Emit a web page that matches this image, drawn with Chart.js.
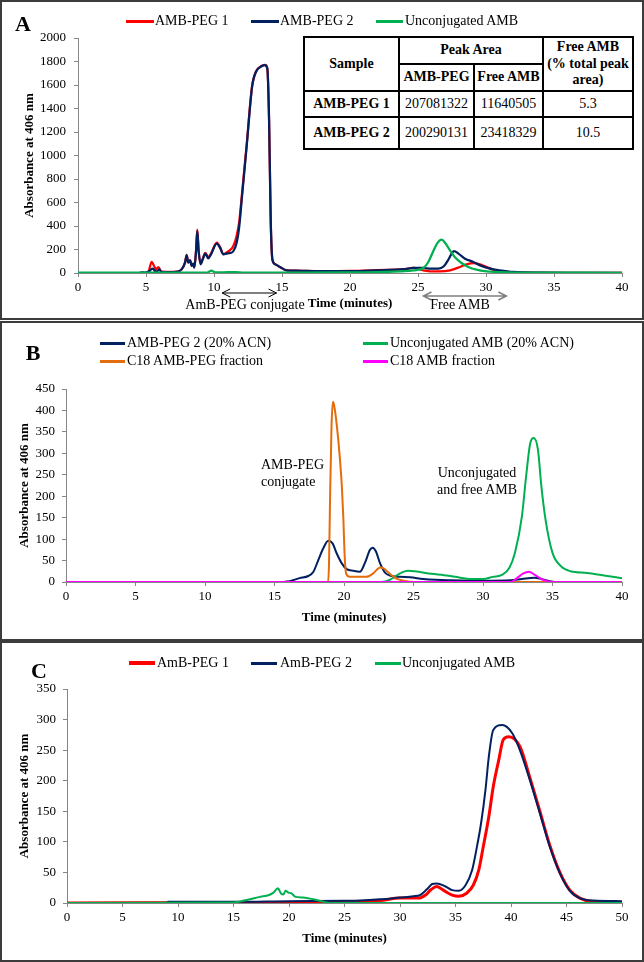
<!DOCTYPE html>
<html>
<head>
<meta charset="utf-8">
<title>AMB-PEG chromatograms</title>
<script src="https://cdn.jsdelivr.net/npm/chart.js@4.4.1/dist/chart.umd.min.js"></script>
<style>
  body { margin: 0; background: #fff; }
  #fig { position: relative; width: 644px; height: 962px; font-family: "Liberation Serif", "Times New Roman", serif; color: #000; overflow: hidden; }
  canvas { position: absolute; left: 0; }
  .frame { position: absolute; left: 0; width: 644px; border: 2px solid #3c3c3c; box-sizing: border-box; }
  .t { position: absolute; line-height: 1; white-space: nowrap; font-size: 14px; transform: translateY(-50%); }
  .c { transform: translate(-50%, -50%); }
  .letter { font-size: 22px; font-weight: bold; }
  .key { position: absolute; height: 3px; }
  #tbl { position: absolute; left: 303px; top: 36px; width: 329px; border-collapse: collapse; table-layout: fixed; font-size: 14px; line-height: 1.2; background: #fff; }
  #tbl td, #tbl th { border: 2px solid #000; padding: 0; text-align: center; }
  #tbl td { font-weight: normal; }
</style>
</head>
<body>
<div id="fig">
  <canvas id="chartA" width="644" height="320" style="top:0"></canvas>
  <canvas id="chartB" width="644" height="320" style="top:320px"></canvas>
  <canvas id="chartC" width="644" height="322" style="top:640px"></canvas>

  <div class="frame" style="top:0;height:320px"></div>
  <div class="frame" style="top:321px;height:320px"></div>
  <div class="frame" style="top:641px;height:321px"></div>

  <!-- panel A -->
  <div class="t c letter" style="left:23px;top:24px">A</div>
  <div class="key" style="left:126px;top:20px;width:28px;background:#ff0000"></div>
  <div class="t" style="left:155px;top:21px">AMB-PEG 1</div>
  <div class="key" style="left:251px;top:20px;width:28px;background:#002060"></div>
  <div class="t" style="left:280px;top:21px">AMB-PEG 2</div>
  <div class="key" style="left:376px;top:20px;width:27px;background:#00b050"></div>
  <div class="t" style="left:405px;top:21px">Unconjugated AMB</div>
  <div class="t c" style="left:245px;top:305px">AmB-PEG conjugate</div>
  <div class="t c" style="left:460px;top:305px">Free AMB</div>
  <table id="tbl">
    <colgroup><col style="width:95px"><col style="width:75px"><col style="width:69px"><col style="width:90px"></colgroup>
    <tr style="height:27px"><th rowspan="2">Sample</th><th colspan="2">Peak Area</th><th rowspan="2">Free AMB<br>(% total peak<br>area)</th></tr>
    <tr style="height:27px"><th>AMB-PEG</th><th>Free AMB</th></tr>
  </table>

  <!-- panel B -->
  <div class="t c letter" style="left:33px;top:353px">B</div>
  <div class="key" style="left:100px;top:342px;width:25px;background:#002060"></div>
  <div class="t" style="left:127px;top:343px">AMB-PEG 2 (20% ACN)</div>
  <div class="key" style="left:363px;top:342px;width:25px;background:#00b050"></div>
  <div class="t" style="left:390px;top:343px">Unconjugated AMB (20% ACN)</div>
  <div class="key" style="left:100px;top:360px;width:25px;background:#e46c0a"></div>
  <div class="t" style="left:127px;top:361px">C18 AMB-PEG fraction</div>
  <div class="key" style="left:363px;top:360px;width:25px;background:#ff00ff"></div>
  <div class="t" style="left:390px;top:361px">C18 AMB fraction</div>
  <div class="t" style="left:261px;top:465px">AMB-PEG</div>
  <div class="t" style="left:261px;top:482px">conjugate</div>
  <div class="t c" style="left:477px;top:473px">Unconjugated</div>
  <div class="t c" style="left:477px;top:490px">and free AMB</div>

  <!-- panel C -->
  <div class="t c letter" style="left:39px;top:671px">C</div>
  <div class="key" style="left:129px;top:661px;width:26px;height:4px;background:#ff0000"></div>
  <div class="t" style="left:157px;top:663px">AmB-PEG 1</div>
  <div class="key" style="left:251px;top:662px;width:26px;background:#002060"></div>
  <div class="t" style="left:280px;top:663px">AmB-PEG 2</div>
  <div class="key" style="left:375px;top:662px;width:26px;background:#00b050"></div>
  <div class="t" style="left:402px;top:663px">Unconjugated AMB</div>
</div>

<script>
// ---- Panel A: SEC, time (min) / absorbance ----
const tA_peg1 = [0, 4.9, 5.17, 5.42, 5.59, 5.74, 5.91, 6.08, 6.27, 6.6, 7.25, 7.62, 7.87, 7.99, 8.11, 8.24, 8.36, 8.48, 8.55, 8.68, 8.77, 8.87, 9.02, 9.17, 9.36, 9.58, 9.78, 10.2, 10.44, 10.69, 10.93, 11.18, 11.42, 11.67, 11.86, 12.03, 12.4, 12.8, 13.1, 13.5, 13.75, 13.92, 14.05, 14.17, 14.3, 14.5, 14.85, 15.34, 16, 18, 20, 22, 24, 24.65, 25.4, 25.9, 26.6, 27.35, 28.08, 28.57, 29.07, 29.56, 30.05, 30.66, 31.5, 33, 36, 40];
const vA_peg1 = [0, 0, 11, 94, 60, 31, 51, 17, 11, 9, 11, 31, 88, 155, 90, 110, 62, 80, 47, 190, 370, 190, 78, 120, 172, 135, 165, 258, 222, 160, 175, 195, 230, 320, 440, 640, 1090, 1590, 1718, 1762, 1772, 1742, 1300, 450, 110, 75, 51, 23, 20, 16, 18, 25, 33, 43, 23, 14, 14, 23, 51, 74, 85, 74, 51, 23, 9, 3, 2, 2];

const tA_peg2 = [0, 4.5, 4.7, 4.9, 5.17, 5.49, 5.74, 5.98, 6.15, 6.6, 7.25, 7.62, 7.87, 7.99, 8.11, 8.24, 8.36, 8.48, 8.55, 8.68, 8.77, 8.87, 9.02, 9.17, 9.36, 9.58, 9.78, 10.2, 10.44, 10.69, 10.93, 11.18, 11.42, 11.67, 11.86, 12.03, 12.4, 12.8, 13.1, 13.5, 13.75, 13.92, 14.05, 14.17, 14.3, 14.5, 14.85, 15.34, 16, 18, 20, 22, 24, 24.65, 25.4, 25.9, 26.5, 26.9, 27.23, 27.5, 27.65, 27.97, 28.46, 29.07, 29.56, 30.3, 31, 32, 34, 36, 40];
const vA_peg2 = [0, 0, 6, 3, 10, 37, 10, 30, 8, 8, 10, 31, 88, 150, 88, 108, 60, 79, 45, 187, 357, 187, 74, 116, 165, 125, 159, 250, 216, 159, 165, 170, 185, 260, 400, 613, 1075, 1585, 1715, 1760, 1770, 1740, 1300, 450, 110, 75, 51, 23, 20, 15, 15, 22, 32, 43, 43, 37, 37, 57, 113, 170, 187, 165, 122, 94, 65, 37, 23, 9, 3, 2, 2];

const tA_free = [0, 9.5, 9.8, 10.1, 11, 11.6, 12.2, 16, 20, 22.2, 24, 24.65, 25.4, 25.76, 26.1, 26.4, 26.74, 27, 27.35, 27.7, 28.2, 28.7, 29.3, 30.05, 31, 34, 40];
const vA_free = [3, 3, 20, 5, 7, 8, 4, 4, 6, 8, 15, 23, 43, 94, 179, 250, 283, 255, 193, 136, 85, 51, 28, 14, 8, 3, 2];

// arrows under the x axis of panel A (time range in minutes)
const arrowsA = [
  { from: 10.6, to: 14.6, drop: 20, color: '#000000', width: 1 },
  { from: 25.4, to: 31.5, drop: 23, color: '#7f7f7f', width: 1.5 }
];

// table of panel A
const tableSamples = ['AMB-PEG 1', 'AMB-PEG 2'];
const pegPeakArea = [207081322, 200290131];
const freePeakArea = [11640505, 23418329];
const freePercent = [5.3, 10.5];

// ---- Panel B: C18 fractions ----
const tB_peg2 = [0, 15, 16.1, 16.8, 17.43, 17.8, 18.15, 18.5, 18.87, 19.18, 19.47, 19.83, 20.19, 20.67, 21.15, 21.5, 21.87, 22.06, 22.3, 22.59, 22.95, 23.43, 24.03, 24.75, 25.7, 26.6, 27.7, 30, 32, 32.8, 33.7, 34.2, 34.8, 35.5, 40];
const vB_peg2 = [0, 0, 2, 9, 14, 24, 51, 78, 96, 90, 67, 44, 30, 26, 24, 44, 75, 80, 71, 44, 22, 14, 12, 11, 7, 5, 4, 3, 4, 7, 10, 7, 2, 0, 0];

const tB_free = [0, 22.7, 23.3, 24.03, 24.6, 25.1, 26.3, 27.2, 28, 29.2, 30, 30.7, 31.4, 31.9, 32.3, 32.8, 33.1, 33.4, 33.65, 33.95, 34.2, 34.5, 35, 35.6, 36.3, 37.5, 38.7, 40];
const vB_free = [0, 0, 5, 20, 26, 25, 19, 16, 12, 7, 7, 12, 17, 33, 68, 153, 246, 324, 336, 309, 223, 145, 68, 37, 25, 21, 15, 9];

const tB_c18peg = [0, 18.85, 18.92, 19, 19.1, 19.2, 19.3, 19.5, 19.7, 19.85, 19.95, 20.05, 20.15, 20.4, 21.6, 22.1, 22.6, 22.85, 23.2, 23.7, 24.3, 25, 40];
const vB_c18peg = [0, 0, 40, 200, 360, 420, 410, 360, 290, 220, 150, 60, 20, 12, 12, 20, 34, 32, 22, 9, 3, 0, 0];

const tB_c18amb = [0, 32, 32.4, 32.9, 33.3, 33.7, 34.2, 34.6, 35, 40];
const vB_c18amb = [0, 0, 8, 20, 24, 17, 7, 2, 0, 0];

// ---- Panel C ----
const tC_peg1 = [0, 15, 20, 25, 26.4, 28.2, 30, 31.7, 32.3, 32.8, 33.3, 33.9, 34.7, 35.3, 36, 36.6, 37.1, 37.5, 38, 38.4, 38.9, 39.3, 39.8, 40.8, 41.7, 42.6, 43.5, 44.4, 45.3, 46.2, 47.5, 50];
const vC_peg1 = [0, 1, 1, 1.5, 2, 4, 8, 8, 13, 22, 27, 21, 13, 11, 16, 29, 54, 92, 141, 190, 234, 267, 272, 256, 205, 150, 94, 50, 21, 8, 2, 1];

const tC_peg2 = [0, 9, 9.1, 15, 20, 25, 26.4, 28.2, 30, 31.2, 31.8, 32.4, 32.9, 33.3, 34.1, 34.7, 35.3, 35.9, 36.5, 36.9, 37.3, 37.7, 38, 38.4, 39.2, 40.1, 40.8, 41.7, 42.6, 43.5, 44.4, 45.3, 46.2, 47.4, 50];
const vC_peg2 = [0, 0, 2, 2, 3, 3.5, 4, 6, 9, 11, 13, 22, 31, 32, 27, 21, 20, 29, 54, 89, 130, 185, 239, 283, 291, 278, 250, 201, 147, 92, 49, 20, 8, 4, 3];

const tC_free = [0, 15, 16.2, 17.4, 18.2, 18.6, 19, 19.3, 19.5, 19.7, 19.95, 20.2, 20.6, 21.3, 22.2, 23.1, 23.7, 50];
const vC_free = [0, 1, 5, 10, 13, 17, 24, 15, 14, 20, 17, 16, 10, 9, 6, 2, 0, 0];

const RED = '#ff0000', NAVY = '#002060', GREEN = '#00b050', ORANGE = '#e46c0a', MAGENTA = '#ff00ff';
const axisGrey = '#868686';

Chart.defaults.font.family = '"Liberation Serif", "Times New Roman", serif';
Chart.defaults.color = '#000';

// fill the table
const tbl = document.getElementById('tbl');
tableSamples.forEach((s, i) => {
  const tr = document.createElement('tr');
  tr.style.height = i === 0 ? '26px' : '32px';
  tr.innerHTML = '<th>' + s + '</th><td>' + pegPeakArea[i] + '</td><td>' + freePeakArea[i] + '</td><td>' + freePercent[i].toFixed(1) + '</td>';
  tbl.appendChild(tr);
});

function pts(t, v) {
  return t.map((x, i) => ({ x: x, y: v[i] }));
}

function series(label, t, v, color, width, order) {
  return {
    label: label,
    data: pts(t, v),
    borderColor: color,
    backgroundColor: color,
    borderWidth: width,
    pointRadius: 0,
    fill: false,
    cubicInterpolationMode: 'monotone',
    order: order
  };
}

const arrowPlugin = {
  id: 'arrows',
  afterDraw(chart, args, opts) {
    if (!opts.list) return;
    const ctx = chart.ctx, xs = chart.scales.x, base = chart.chartArea.bottom;
    opts.list.forEach(a => {
      const x1 = xs.getPixelForValue(a.from), x2 = xs.getPixelForValue(a.to), y = base + a.drop;
      ctx.save();
      ctx.strokeStyle = a.color;
      ctx.lineWidth = a.width;
      ctx.beginPath();
      ctx.moveTo(x1, y); ctx.lineTo(x2, y);
      ctx.moveTo(x1 + 8, y - 4); ctx.lineTo(x1, y); ctx.lineTo(x1 + 8, y + 4);
      ctx.moveTo(x2 - 8, y - 4); ctx.lineTo(x2, y); ctx.lineTo(x2 - 8, y + 4);
      ctx.stroke();
      ctx.restore();
    });
  }
};

function makeChart(id, datasets, p) {
  return new Chart(document.getElementById(id), {
    type: 'line',
    data: { datasets: datasets },
    plugins: [arrowPlugin],
    options: {
      responsive: false,
      animation: false,
      devicePixelRatio: 1,
      layout: { padding: { top: p.top, right: 22, left: 0, bottom: 0 } },
      plugins: {
        legend: { display: false },
        tooltip: { enabled: false },
        arrows: { list: p.arrows }
      },
      scales: {
        x: {
          type: 'linear',
          min: 0,
          max: p.xMax,
          ticks: { stepSize: 5, padding: 3, font: { size: 13 }, callback: v => String(v) },
          grid: { drawOnChartArea: false, tickLength: 4, color: axisGrey },
          border: { color: axisGrey },
          title: { display: true, text: 'Time (minutes)', font: { size: 13, weight: 'bold' }, padding: { top: 0, bottom: p.xTitlePad } },
          afterFit: s => { s.height = p.xHeight; }
        },
        y: {
          type: 'linear',
          min: 0,
          max: p.yMax,
          ticks: { stepSize: p.yStep, padding: p.yTickPad, font: { size: 13 }, callback: v => String(v) },
          grid: { drawOnChartArea: false, tickLength: 4, color: axisGrey },
          border: { color: axisGrey },
          title: { display: true, text: 'Absorbance at 406 nm', font: { size: 13, weight: 'bold' }, padding: { top: p.yTitlePad, bottom: 0 } },
          afterFit: s => { s.width = p.yWidth; }
        }
      }
    }
  });
}

makeChart('chartA', [
  series('AMB-PEG 1', tA_peg1, vA_peg1, RED, 2.25, 3),
  series('AMB-PEG 2', tA_peg2, vA_peg2, NAVY, 2.25, 2),
  series('Unconjugated AMB', tA_free, vA_free, GREEN, 2.25, 1)
], { top: 38, xMax: 40, xHeight: 47, xTitlePad: 9, yMax: 2000, yStep: 200, yTickPad: 8, yTitlePad: 22, yWidth: 78, arrows: arrowsA });

makeChart('chartB', [
  series('AMB-PEG 2 (20% ACN)', tB_peg2, vB_peg2, NAVY, 2, 4),
  series('Unconjugated AMB (20% ACN)', tB_free, vB_free, GREEN, 2, 3),
  series('C18 AMB-PEG fraction', tB_c18peg, vB_c18peg, ORANGE, 2, 2),
  series('C18 AMB fraction', tB_c18amb, vB_c18amb, MAGENTA, 2, 1)
], { top: 69, xMax: 40, xHeight: 58, xTitlePad: 15, yMax: 450, yStep: 50, yTickPad: 7, yTitlePad: 17, yWidth: 66 });

makeChart('chartC', [
  series('AmB-PEG 1', tC_peg1, vC_peg1, RED, 3, 3),
  series('AmB-PEG 2', tC_peg2, vC_peg2, NAVY, 2, 2),
  series('Unconjugated AMB', tC_free, vC_free, GREEN, 2, 1)
], { top: 49, xMax: 50, xHeight: 59, xTitlePad: 16, yMax: 350, yStep: 50, yTickPad: 7, yTitlePad: 17, yWidth: 67 });
</script>
</body>
</html>
